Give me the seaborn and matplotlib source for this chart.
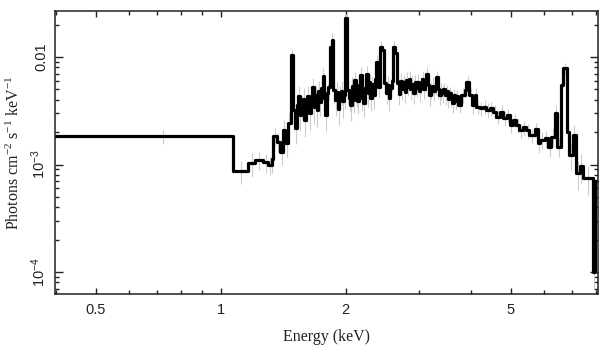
import numpy as np
import pandas as pd
import matplotlib
matplotlib.use("Agg")
import matplotlib.pyplot as plt
import matplotlib.ticker as mticker
import seaborn as sns

# --- low-energy bins (keV left edges), flux and fractional errors ---
edges_low = [0.38, 1.071, 1.164, 1.208, 1.265, 1.300, 1.325, 1.337, 1.362, 1.387,
             1.413, 1.430]
flux_low = [1.84e-3, 8.7e-4, 1.03e-3, 1.10e-3, 1.05e-3, 1.00e-3, 1.12e-3, 1.84e-3, 1.63e-3, 1.31e-3,
            2.09e-3, 1.58e-3]
err_low = [0.15, 0.25, 0.25, 0.20, 0.20, 0.20, 0.25, 0.20, 0.20, 0.25,
           0.25, 0.25]

# --- dense line-rich band, 1.45-3.7 keV ---
edges_mid = [1.453, 1.472, 1.490, 1.507, 1.522, 1.535, 1.548, 1.562, 1.578, 1.590,
             1.603, 1.615, 1.630, 1.645, 1.658, 1.672, 1.686, 1.700, 1.715, 1.729,
             1.744, 1.758, 1.772, 1.786, 1.800, 1.815, 1.830, 1.848, 1.865, 1.882,
             1.898, 1.914, 1.930, 1.946, 1.962, 1.978, 1.995, 2.018, 2.034, 2.050,
             2.066, 2.082, 2.098, 2.115, 2.132, 2.149, 2.166, 2.184, 2.202, 2.220,
             2.238, 2.256, 2.274, 2.292, 2.310, 2.328, 2.346, 2.364, 2.390, 2.415,
             2.445, 2.478, 2.498, 2.518, 2.538, 2.558, 2.578, 2.600, 2.632, 2.660,
             2.682, 2.704, 2.726, 2.748, 2.770, 2.792, 2.815, 2.838, 2.861, 2.884,
             2.907, 2.930, 2.954, 2.978, 3.002, 3.026, 3.050, 3.075, 3.100, 3.125,
             3.150, 3.175, 3.200, 3.226, 3.252, 3.278, 3.304, 3.330, 3.356, 3.383,
             3.410, 3.437, 3.465, 3.493, 3.521, 3.549, 3.578, 3.607, 3.636, 3.665,
             3.700]
flux_mid = [2.41e-3, 1.04e-2, 3.2e-3, 2.2e-3, 3.6e-3, 4.3e-3, 2.9e-3, 3.5e-3, 4.1e-3, 2.6e-3,
            3.3e-3, 4.3e-3, 3.0e-3, 3.9e-3, 5.3e-3, 3.4e-3, 4.4e-3, 3.2e-3, 4.8e-3, 3.8e-3,
            5.2e-3, 6.6e-3, 4.2e-3, 2.9e-3, 4.6e-3, 5.3e-3, 1.25e-2, 1.45e-2, 4.9e-3, 4.0e-3,
            4.7e-3, 3.3e-3, 4.3e-3, 4.8e-3, 3.9e-3, 4.4e-3, 2.29e-2, 4.9e-3, 4.2e-3, 3.6e-3,
            5.4e-3, 4.0e-3, 6.1e-3, 4.6e-3, 3.9e-3, 5.5e-3, 6.8e-3, 4.2e-3, 3.7e-3, 5.2e-3,
            6.9e-3, 4.6e-3, 5.8e-3, 4.2e-3, 5.6e-3, 4.4e-3, 6.2e-3, 9.0e-3, 5.3e-3, 1.25e-2,
            1.16e-2, 5.7e-3, 4.6e-3, 5.5e-3, 4.2e-3, 5.2e-3, 6.0e-3, 1.25e-2, 1.1e-2, 5.7e-3,
            4.5e-3, 6.0e-3, 5.0e-3, 5.8e-3, 4.7e-3, 6.1e-3, 5.3e-3, 6.3e-3, 5.0e-3, 5.6e-3,
            4.6e-3, 5.8e-3, 5.2e-3, 5.9e-3, 4.8e-3, 5.5e-3, 6.3e-3, 5.0e-3, 5.8e-3, 7.0e-3,
            5.5e-3, 4.4e-3, 5.0e-3, 5.4e-3, 4.8e-3, 5.4e-3, 6.5e-3, 5.0e-3, 4.4e-3, 4.9e-3,
            4.6e-3, 5.0e-3, 4.4e-3, 4.8e-3, 4.1e-3, 4.6e-3, 4.2e-3, 3.7e-3, 4.4e-3, 3.9e-3,
            4.3e-3]
err_mid = [0.25, 0.15, 0.30, 0.30, 0.25, 0.25, 0.30, 0.25, 0.25, 0.30,
           0.25, 0.25, 0.30, 0.25, 0.20, 0.30, 0.25, 0.30, 0.25, 0.25,
           0.25, 0.20, 0.25, 0.30, 0.25, 0.25, 0.15, 0.15, 0.25, 0.30,
           0.25, 0.30, 0.25, 0.25, 0.30, 0.25, 0.10, 0.25, 0.25, 0.30,
           0.20, 0.25, 0.20, 0.25, 0.25, 0.20, 0.20, 0.25, 0.25, 0.20,
           0.20, 0.25, 0.20, 0.25, 0.20, 0.25, 0.20, 0.15, 0.20, 0.12,
           0.12, 0.20, 0.20, 0.20, 0.25, 0.20, 0.20, 0.12, 0.12, 0.20,
           0.20, 0.18, 0.20, 0.18, 0.20, 0.18, 0.18, 0.18, 0.20, 0.18,
           0.20, 0.18, 0.18, 0.18, 0.20, 0.18, 0.15, 0.18, 0.18, 0.15,
           0.18, 0.20, 0.18, 0.18, 0.18, 0.18, 0.15, 0.18, 0.18, 0.18,
           0.18, 0.15, 0.18, 0.15, 0.18, 0.15, 0.18, 0.18, 0.15, 0.18,
           0.15]

# --- high-energy bins, 3.7-8 keV (last entry of edges closes the final bin) ---
edges_high = [3.720, 3.800, 3.870, 3.900, 3.970, 4.020, 4.090, 4.130, 4.210, 4.280,
              4.360, 4.440, 4.530, 4.610, 4.700, 4.790, 4.880, 4.970, 5.050, 5.150,
              5.240, 5.340, 5.440, 5.540, 5.700, 5.800, 5.860, 6.030, 6.140, 6.260,
              6.380, 6.470, 6.590, 6.660, 6.810, 6.910, 7.040, 7.180, 7.320, 7.450,
              7.870, 7.990, 8.400]
flux_high = [3.57e-3, 4.44e-3, 4.93e-3, 5.89e-3, 4.44e-3, 3.57e-3, 4.44e-3, 3.45e-3, 3.33e-3, 3.45e-3,
             3.22e-3, 3.33e-3, 3.10e-3, 2.78e-3, 3.10e-3, 2.69e-3, 2.88e-3, 2.33e-3, 2.59e-3, 2.33e-3,
             2.09e-3, 2.22e-3, 2.09e-3, 1.88e-3, 2.12e-3, 1.57e-3, 1.69e-3, 1.75e-3, 1.47e-3, 1.81e-3,
             2.99e-3, 1.47e-3, 5.5e-3, 7.85e-3, 2.02e-3, 1.23e-3, 1.88e-3, 8.27e-4, 9.68e-4, 7.45e-4,
             1.0e-4, 7.0e-4]
err_high = [0.15, 0.15, 0.15, 0.12, 0.15, 0.18, 0.15, 0.15, 0.15, 0.15,
            0.15, 0.15, 0.15, 0.15, 0.15, 0.15, 0.15, 0.15, 0.15, 0.15,
            0.15, 0.15, 0.15, 0.15, 0.15, 0.18, 0.18, 0.18, 0.20, 0.20,
            0.20, 0.20, 0.15, 0.12, 0.25, 0.30, 0.25, 0.30, 0.30, 0.30,
            0.30, 0.30]

edges = edges_low + edges_mid + edges_high
flux = flux_low + flux_mid + flux_high
flux_err = err_low + err_mid + err_high
assert len(edges) == len(flux) + 1 == len(flux_err) + 1

sns.set_style("ticks")
plt.rcParams["font.family"] = ["Liberation Sans", "DejaVu Sans"]
plt.rcParams["axes.linewidth"] = 1.1

steps = pd.DataFrame({"energy": edges, "flux": flux + [flux[-1]]})
e = np.array(edges)
f = np.array(flux)
err = np.array(flux_err)
centers = 0.5 * (e[:-1] + e[1:])

fig = plt.figure(figsize=(6.09, 3.57), dpi=100)
ax = fig.add_axes([0.0908, 0.1756, 0.8906, 0.7936])

ax.vlines(centers, f * (1 - err), f * (1 + err), color="#cccccc", lw=0.8, zorder=1)
sns.lineplot(data=steps, x="energy", y="flux", drawstyle="steps-post",
             estimator=None, sort=False, color="black", lw=2.3, ax=ax, zorder=2)

ax.set_xscale("log")
ax.set_yscale("log")
ax.set_xlim(0.399, 8.09)
ax.set_ylim(6.2e-5, 0.0268)

ax.xaxis.set_major_locator(mticker.FixedLocator([0.5, 1, 2, 5]))
ax.xaxis.set_major_formatter(mticker.FixedFormatter(["0.5", "1", "2", "5"]))
ax.xaxis.set_minor_locator(mticker.FixedLocator([0.4, 0.6, 0.7, 0.8, 0.9, 3, 4, 6, 7, 8]))
ax.xaxis.set_minor_formatter(mticker.NullFormatter())
ax.yaxis.set_major_locator(mticker.FixedLocator([1e-4, 1e-3, 1e-2]))
ax.yaxis.set_major_formatter(mticker.FixedFormatter(
    [r"$\mathregular{10^{-4}}$", r"$\mathregular{10^{-3}}$", "0.01"]))
ax.yaxis.set_minor_locator(mticker.LogLocator(base=10, subs=np.arange(2, 10)))
ax.yaxis.set_minor_formatter(mticker.NullFormatter())

ax.tick_params(which="both", direction="in", top=True, right=True, color="#222222",
               width=1.0, labelsize=10.5, labelcolor="#222222")
ax.tick_params(axis="x", which="major", length=4, pad=6)
ax.tick_params(axis="x", which="minor", length=3)
ax.tick_params(axis="y", which="major", length=6, pad=5, labelrotation=90)
ax.tick_params(axis="y", which="minor", length=3)
for lbl in ax.get_yticklabels():
    lbl.set_verticalalignment("center")

ax.set_xlabel("Energy (keV)", family=["Liberation Serif", "DejaVu Serif"], fontsize=11.5,
              labelpad=9, color="#222222")
ax.set_ylabel(r"Photons cm$\mathregular{^{-2}}$ s$\mathregular{^{-1}}$ keV$\mathregular{^{-1}}$",
              family=["Liberation Serif", "DejaVu Serif"], fontsize=11.5, labelpad=5,
              color="#222222")
for sp in ax.spines.values():
    sp.set_color("#222222")

fig.savefig("out.png", dpi=100)
